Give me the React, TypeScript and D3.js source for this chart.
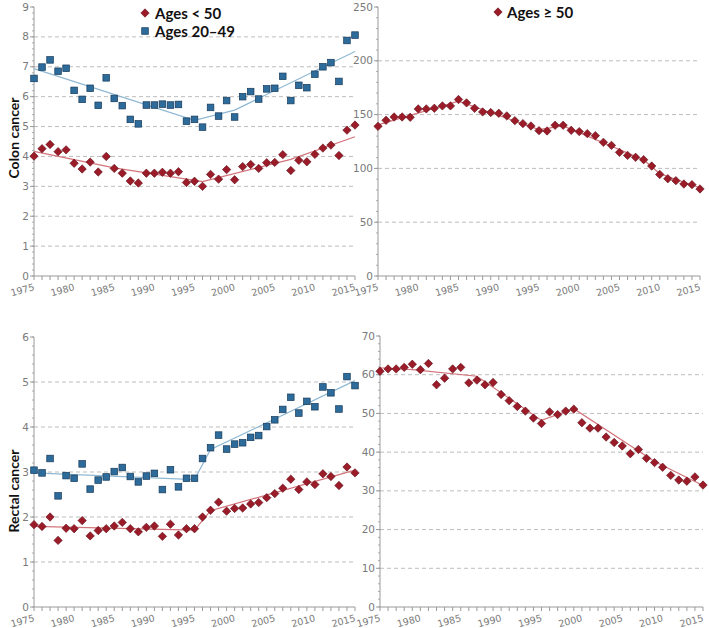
import React from "react";
import * as d3 from "d3";

const years = d3.range(1975, 2016);
const yearTicks = [1975, 1980, 1985, 1990, 1995, 2000, 2005, 2010, 2015];

const colonUnder50 = [4.01, 4.26, 4.4, 4.16, 4.22, 3.77, 3.58, 3.81, 3.48, 4.0, 3.6, 3.44, 3.18, 3.11, 3.44, 3.44, 3.47, 3.44, 3.49, 3.13, 3.17, 3.0, 3.4, 3.24, 3.56, 3.22, 3.66, 3.73, 3.6, 3.79, 3.8, 4.06, 3.53, 3.87, 3.82, 4.07, 4.28, 4.38, 4.03, 4.88, 5.05];
const colon20to49 = [6.61, 6.99, 7.23, 6.85, 6.95, 6.21, 5.91, 6.28, 5.71, 6.63, 5.94, 5.7, 5.24, 5.09, 5.72, 5.72, 5.75, 5.72, 5.74, 5.18, 5.24, 4.98, 5.64, 5.35, 5.87, 5.32, 6.0, 6.17, 5.92, 6.26, 6.28, 6.68, 5.87, 6.38, 6.3, 6.75, 7.0, 7.14, 6.51, 7.88, 8.06];
const colon50plus = [139.1, 144.7, 147.8, 147.8, 147.5, 155.3, 155.3, 155.9, 158.1, 158.1, 164.0, 160.9, 155.9, 152.5, 151.9, 151.2, 148.8, 144.4, 141.6, 139.4, 135.1, 134.8, 140.1, 140.1, 135.4, 134.2, 132.3, 130.4, 124.2, 121.4, 114.9, 112.1, 110.3, 108.1, 102.2, 94.4, 90.4, 88.6, 85.5, 84.9, 80.9];
const rectal20to49 = [3.04, 2.98, 3.3, 2.47, 2.92, 2.86, 3.18, 2.62, 2.82, 2.89, 3.01, 3.1, 2.9, 2.78, 2.91, 2.97, 2.61, 3.05, 2.67, 2.86, 2.86, 3.3, 3.54, 3.82, 3.51, 3.62, 3.65, 3.77, 3.81, 4.01, 4.16, 4.39, 4.66, 4.31, 4.57, 4.45, 4.89, 4.76, 4.4, 5.12, 4.92];
const rectalUnder50 = [1.83, 1.79, 2.0, 1.48, 1.75, 1.74, 1.92, 1.58, 1.7, 1.74, 1.8, 1.88, 1.74, 1.67, 1.77, 1.8, 1.57, 1.84, 1.6, 1.74, 1.74, 2.0, 2.15, 2.33, 2.13, 2.19, 2.2, 2.29, 2.32, 2.43, 2.52, 2.64, 2.84, 2.61, 2.78, 2.72, 2.96, 2.9, 2.7, 3.11, 2.98];
const rectal50plus = [60.9, 61.5, 61.5, 61.9, 62.7, 61.3, 62.9, 57.4, 59.1, 61.5, 61.9, 57.9, 58.6, 57.4, 58.0, 54.9, 53.3, 51.8, 50.6, 48.8, 47.4, 50.4, 49.7, 50.6, 51.1, 47.6, 46.2, 46.2, 43.9, 42.5, 41.6, 39.6, 40.7, 38.4, 37.3, 36.1, 34.0, 32.8, 32.5, 33.6, 31.5];

// joinpoint trend lines (knot years / fitted values)
const colonUnder50TrendYears = [1975, 1985, 1996, 2007, 2015];
const colonUnder50TrendValues = [4.17, 3.62, 3.16, 3.9, 4.66];
const colon20to49TrendYears = [1975, 1995, 2000, 2015];
const colon20to49TrendValues = [6.94, 5.21, 5.55, 7.51];
const colon50plusTrendYears = [1975, 1985, 1995, 1998, 2008, 2010, 2015];
const colon50plusTrendValues = [140.5, 162.5, 136, 139.5, 108, 95, 82];
const rectal20to49TrendYears = [1975, 1995, 1997, 2015];
const rectal20to49TrendValues = [2.98, 2.83, 3.5, 5.03];
const rectalUnder50TrendYears = [1975, 1995, 1997, 2015];
const rectalUnder50TrendValues = [1.79, 1.71, 2.14, 3.04];
const rectal50plusTrendYears = [1975, 1979, 1987, 1995, 1999, 2009, 2015];
const rectal50plusTrendValues = [61.8, 61.3, 59.6, 48.2, 51.2, 37.6, 31.4];

const legendLabels = ["Ages < 50", "Ages 20\u201349", "Ages \u2265 50"];
const rowLabels = ["Colon cancer", "Rectal cancer"];

const RED = "#9b1b29";
const RED_STROKE = "#5e0e16";
const RED_LINE = "#d3737b";
const BLUE = "#2d6b9b";
const BLUE_STROKE = "#163a5a";
const BLUE_LINE = "#8fb8d3";

type Series = { values: number[]; trendYears: number[]; trendValues: number[]; kind: "red" | "blue" };
type Panel = {
  x0: number; x1: number; yTop: number; yBottom: number;
  max: number; major: number; minor: number;
  series: Series[];
};

const panels: Panel[] = [
  {
    x0: 34, x1: 355, yTop: 7, yBottom: 276, max: 9, major: 1, minor: 0.2,
    series: [
      { values: colon20to49, trendYears: colon20to49TrendYears, trendValues: colon20to49TrendValues, kind: "blue" },
      { values: colonUnder50, trendYears: colonUnder50TrendYears, trendValues: colonUnder50TrendValues, kind: "red" },
    ],
  },
  {
    x0: 378, x1: 700, yTop: 7, yBottom: 276, max: 250, major: 50, minor: 10,
    series: [
      { values: colon50plus, trendYears: colon50plusTrendYears, trendValues: colon50plusTrendValues, kind: "red" },
    ],
  },
  {
    x0: 34, x1: 355, yTop: 337, yBottom: 607, max: 6, major: 1, minor: 0.2,
    series: [
      { values: rectal20to49, trendYears: rectal20to49TrendYears, trendValues: rectal20to49TrendValues, kind: "blue" },
      { values: rectalUnder50, trendYears: rectalUnder50TrendYears, trendValues: rectalUnder50TrendValues, kind: "red" },
    ],
  },
  {
    x0: 380, x1: 703, yTop: 336, yBottom: 607, max: 70, major: 10, minor: 2,
    series: [
      { values: rectal50plus, trendYears: rectal50plusTrendYears, trendValues: rectal50plusTrendValues, kind: "red" },
    ],
  },
];

const AXIS = "#9a9a9a";
const TICK_TEXT = "#7a7a7a";
const GRID = "#bdbdbd";

function Diamond({ x, y }: { x: number; y: number }) {
  const s = 4.2;
  return (
    <path
      d={`M${x},${y - s}L${x + s},${y}L${x},${y + s}L${x - s},${y}Z`}
      fill={RED}
      stroke={RED_STROKE}
      strokeWidth={0.6}
    />
  );
}

function Square({ x, y }: { x: number; y: number }) {
  const s = 3.3;
  return (
    <rect x={x - s} y={y - s} width={2 * s} height={2 * s} fill={BLUE} stroke={BLUE_STROKE} strokeWidth={0.7} />
  );
}

function PanelView({ p }: { p: Panel }) {
  const x = d3.scaleLinear().domain([1975, 2015]).range([p.x0, p.x1]);
  const y = d3.scaleLinear().domain([0, p.max]).range([p.yBottom, p.yTop]);
  const majors = d3.range(0, p.max + p.major / 2, p.major);
  const nMinor = Math.round(p.max / p.minor);
  const minors = d3.range(0, nMinor + 1).map((i) => i * p.minor);
  const line = d3
    .line<[number, number]>()
    .x((d) => x(d[0]))
    .y((d) => y(d[1]));
  return (
    <g>
      {majors
        .filter((v) => v > 0 && v < p.max - 1e-9)
        .map((v) => (
          <line key={"g" + v} x1={p.x0} x2={p.x1} y1={y(v)} y2={y(v)} stroke={GRID} strokeWidth={1} strokeDasharray="4,3" />
        ))}
      <line x1={p.x0} x2={p.x0} y1={p.yTop} y2={p.yBottom} stroke={AXIS} strokeWidth={1} />
      {minors.map((v, i) => (
        <line key={"m" + i} x1={p.x0 - 2} x2={p.x0} y1={y(v)} y2={y(v)} stroke={AXIS} strokeWidth={0.8} />
      ))}
      {majors.map((v) => (
        <g key={"t" + v}>
          <line x1={p.x0 - 4} x2={p.x0} y1={y(v)} y2={y(v)} stroke={AXIS} strokeWidth={1} />
          <text x={p.x0 - 5} y={y(v) + 3.5} textAnchor="end" fontSize={10.5} fill={TICK_TEXT} fontFamily="DejaVu Sans, sans-serif">
            {v}
          </text>
        </g>
      ))}
      <line x1={p.x0} x2={p.x1} y1={p.yBottom} y2={p.yBottom} stroke={AXIS} strokeWidth={1.2} />
      {years.map((yr) => (
        <line key={"xt" + yr} x1={x(yr)} x2={x(yr)} y1={p.yBottom} y2={p.yBottom + 4} stroke={AXIS} strokeWidth={1} />
      ))}
      {yearTicks.map((yr) => (
        <text
          key={"xl" + yr}
          transform={`translate(${x(yr) + 1},${p.yBottom + 14}) rotate(-15)`}
          textAnchor="end"
          fontSize={9.5}
          fill={TICK_TEXT}
          fontFamily="DejaVu Sans, sans-serif"
        >
          {yr}
        </text>
      ))}
      {p.series.map((s, si) => (
        <path
          key={"tr" + si}
          d={line(s.trendYears.map((yr, i) => [yr, s.trendValues[i]] as [number, number])) || ""}
          fill="none"
          stroke={s.kind === "red" ? RED_LINE : BLUE_LINE}
          strokeWidth={1.2}
        />
      ))}
      {p.series.map((s, si) => (
        <g key={"pts" + si}>
          {s.values.map((v, i) =>
            s.kind === "red" ? (
              <Diamond key={i} x={x(years[i])} y={y(v)} />
            ) : (
              <Square key={i} x={x(years[i])} y={y(v)} />
            )
          )}
        </g>
      ))}
    </g>
  );
}

export default function App() {
  return (
    <svg
      width={709}
      height={628}
      style={{ position: "absolute", left: 0, top: 0, background: "#fff" }}
    >
      <rect x={0} y={0} width={709} height={628} fill="#fff" />
      {panels.map((p, i) => (
        <PanelView key={i} p={p} />
      ))}
      <Diamond x={145} y={13} />
      <text x={155} y={18.5} fontSize={15} fontWeight="bold" fontFamily="Lato, sans-serif" fill="#111">
        {legendLabels[0]}
      </text>
      <Square x={145} y={31} />
      <text x={155} y={36.5} fontSize={15} fontWeight="bold" fontFamily="Lato, sans-serif" fill="#111">
        {legendLabels[1]}
      </text>
      <Diamond x={498} y={12} />
      <text x={507} y={17.5} fontSize={15} fontWeight="bold" fontFamily="Lato, sans-serif" fill="#111">
        {legendLabels[2]}
      </text>
      <text
        transform="translate(19,138) rotate(-90)"
        textAnchor="middle"
        fontSize={14}
        fontWeight="bold"
        fontFamily="Lato, sans-serif"
        fill="#111"
      >
        {rowLabels[0]}
      </text>
      <text
        transform="translate(19,491) rotate(-90)"
        textAnchor="middle"
        fontSize={14}
        fontWeight="bold"
        fontFamily="Lato, sans-serif"
        fill="#111"
      >
        {rowLabels[1]}
      </text>
    </svg>
  );
}
